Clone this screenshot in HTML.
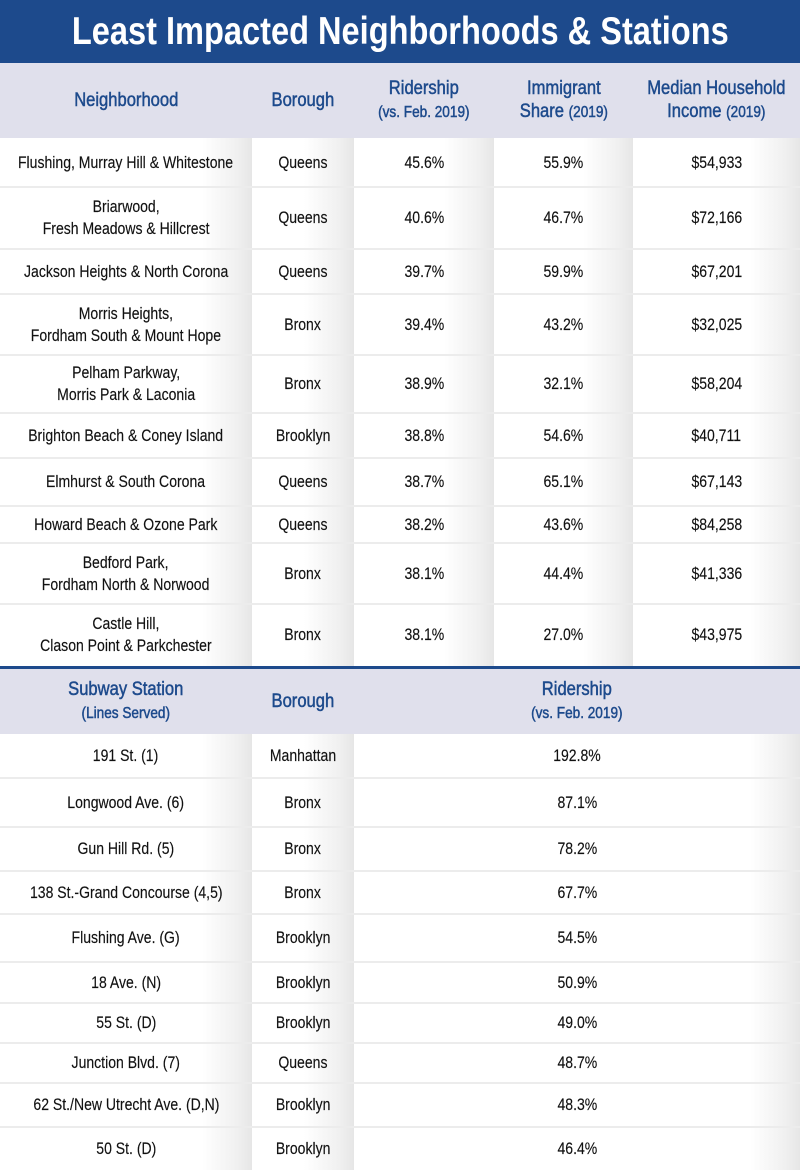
<!DOCTYPE html>
<html><head><meta charset="utf-8"><style>
*{margin:0;padding:0;box-sizing:border-box}
body{width:800px;height:1170px;overflow:hidden;background:#fff;font-family:"Liberation Sans",sans-serif;color:#111}
.title{position:absolute;left:0;top:0;width:800px;height:63px;background:#1d4a8c;color:#fff;font-weight:bold;font-size:39px;text-align:center;line-height:64px;white-space:nowrap}
.title span{display:inline-block;transform:scaleX(0.835)}
.row{position:absolute;left:0;width:800px;display:flex}
.row>div{height:100%;display:flex;align-items:center;justify-content:center;text-align:center;font-size:16.5px;line-height:22px;background:linear-gradient(to right,#fff calc(100% - 50px),#f0f0f0 calc(100% - 15px),#e6e6e6 100%)}
.row>div>span{display:inline-block;transform:scaleX(0.85);white-space:nowrap;-webkit-text-stroke:0.15px #111}
.hdr>div{background:#e0e0ec;color:#1d4a8c;font-size:19.5px;line-height:23px}
.hdr>div>span{-webkit-text-stroke:0.5px #1d4a8c}
.hdr small{font-size:16px}
.sep{position:absolute;left:0;width:800px;height:2px;background:#ececec}
.c1{width:252px}.c2{width:102px}.c3{width:140px}.c4{width:139px}.c5{width:167px}.cw{width:446px}
</style></head><body>
<div class="title"><span>Least Impacted Neighborhoods &amp; Stations</span></div>
<div class="row hdr" style="top:63px;height:75px"><div class="c1"><span>Neighborhood</span></div><div class="c2"><span>Borough</span></div><div class="c3"><span>Ridership<br><small>(vs. Feb. 2019)</small></span></div><div class="c4"><span>Immigrant<br>Share <small>(2019)</small></span></div><div class="c5"><span>Median Household<br>Income <small>(2019)</small></span></div></div>
<div class="row" style="top:138px;height:49px"><div class="c1"><span>Flushing, Murray Hill &amp; Whitestone</span></div><div class="c2"><span>Queens</span></div><div class="c3"><span>45.6%</span></div><div class="c4"><span>55.9%</span></div><div class="c5"><span>$54,933</span></div></div>
<div class="row" style="top:187px;height:62px"><div class="c1"><span>Briarwood,<br>Fresh Meadows &amp; Hillcrest</span></div><div class="c2"><span>Queens</span></div><div class="c3"><span>40.6%</span></div><div class="c4"><span>46.7%</span></div><div class="c5"><span>$72,166</span></div></div>
<div class="row" style="top:249px;height:45px"><div class="c1"><span>Jackson Heights &amp; North Corona</span></div><div class="c2"><span>Queens</span></div><div class="c3"><span>39.7%</span></div><div class="c4"><span>59.9%</span></div><div class="c5"><span>$67,201</span></div></div>
<div class="row" style="top:294px;height:61px"><div class="c1"><span>Morris Heights,<br>Fordham South &amp; Mount Hope</span></div><div class="c2"><span>Bronx</span></div><div class="c3"><span>39.4%</span></div><div class="c4"><span>43.2%</span></div><div class="c5"><span>$32,025</span></div></div>
<div class="row" style="top:355px;height:58px"><div class="c1"><span>Pelham Parkway,<br>Morris Park &amp; Laconia</span></div><div class="c2"><span>Bronx</span></div><div class="c3"><span>38.9%</span></div><div class="c4"><span>32.1%</span></div><div class="c5"><span>$58,204</span></div></div>
<div class="row" style="top:413px;height:45px"><div class="c1"><span>Brighton Beach &amp; Coney Island</span></div><div class="c2"><span>Brooklyn</span></div><div class="c3"><span>38.8%</span></div><div class="c4"><span>54.6%</span></div><div class="c5"><span>$40,711</span></div></div>
<div class="row" style="top:458px;height:48px"><div class="c1"><span>Elmhurst &amp; South Corona</span></div><div class="c2"><span>Queens</span></div><div class="c3"><span>38.7%</span></div><div class="c4"><span>65.1%</span></div><div class="c5"><span>$67,143</span></div></div>
<div class="row" style="top:506px;height:37px"><div class="c1"><span>Howard Beach &amp; Ozone Park</span></div><div class="c2"><span>Queens</span></div><div class="c3"><span>38.2%</span></div><div class="c4"><span>43.6%</span></div><div class="c5"><span>$84,258</span></div></div>
<div class="row" style="top:543px;height:61px"><div class="c1"><span>Bedford Park,<br>Fordham North &amp; Norwood</span></div><div class="c2"><span>Bronx</span></div><div class="c3"><span>38.1%</span></div><div class="c4"><span>44.4%</span></div><div class="c5"><span>$41,336</span></div></div>
<div class="row" style="top:604px;height:62px"><div class="c1"><span>Castle Hill,<br>Clason Point &amp; Parkchester</span></div><div class="c2"><span>Bronx</span></div><div class="c3"><span>38.1%</span></div><div class="c4"><span>27.0%</span></div><div class="c5"><span>$43,975</span></div></div>
<div class="sep" style="top:186px"></div><div class="sep" style="top:248px"></div><div class="sep" style="top:293px"></div><div class="sep" style="top:354px"></div><div class="sep" style="top:412px"></div><div class="sep" style="top:457px"></div><div class="sep" style="top:505px"></div><div class="sep" style="top:542px"></div><div class="sep" style="top:603px"></div>
<div style="position:absolute;left:0;top:666px;width:800px;height:3px;background:#1d4a8c"></div>
<div class="row hdr" style="top:669px;height:65px"><div class="c1"><span>Subway Station<br><small>(Lines Served)</small></span></div><div class="c2"><span>Borough</span></div><div class="cw"><span>Ridership<br><small>(vs. Feb. 2019)</small></span></div></div>
<div class="row" style="top:734px;height:44px"><div class="c1"><span>191 St. (1)</span></div><div class="c2"><span>Manhattan</span></div><div class="cw"><span>192.8%</span></div></div>
<div class="row" style="top:778px;height:49px"><div class="c1"><span>Longwood Ave. (6)</span></div><div class="c2"><span>Bronx</span></div><div class="cw"><span>87.1%</span></div></div>
<div class="row" style="top:827px;height:44px"><div class="c1"><span>Gun Hill Rd. (5)</span></div><div class="c2"><span>Bronx</span></div><div class="cw"><span>78.2%</span></div></div>
<div class="row" style="top:871px;height:43px"><div class="c1"><span>138 St.-Grand Concourse (4,5)</span></div><div class="c2"><span>Bronx</span></div><div class="cw"><span>67.7%</span></div></div>
<div class="row" style="top:914px;height:48px"><div class="c1"><span>Flushing Ave. (G)</span></div><div class="c2"><span>Brooklyn</span></div><div class="cw"><span>54.5%</span></div></div>
<div class="row" style="top:962px;height:41px"><div class="c1"><span>18 Ave. (N)</span></div><div class="c2"><span>Brooklyn</span></div><div class="cw"><span>50.9%</span></div></div>
<div class="row" style="top:1003px;height:40px"><div class="c1"><span>55 St. (D)</span></div><div class="c2"><span>Brooklyn</span></div><div class="cw"><span>49.0%</span></div></div>
<div class="row" style="top:1043px;height:40px"><div class="c1"><span>Junction Blvd. (7)</span></div><div class="c2"><span>Queens</span></div><div class="cw"><span>48.7%</span></div></div>
<div class="row" style="top:1083px;height:44px"><div class="c1"><span>62 St./New Utrecht Ave. (D,N)</span></div><div class="c2"><span>Brooklyn</span></div><div class="cw"><span>48.3%</span></div></div>
<div class="row" style="top:1127px;height:43px"><div class="c1"><span>50 St. (D)</span></div><div class="c2"><span>Brooklyn</span></div><div class="cw"><span>46.4%</span></div></div>
<div class="sep" style="top:777px"></div><div class="sep" style="top:826px"></div><div class="sep" style="top:870px"></div><div class="sep" style="top:913px"></div><div class="sep" style="top:961px"></div><div class="sep" style="top:1002px"></div><div class="sep" style="top:1042px"></div><div class="sep" style="top:1082px"></div><div class="sep" style="top:1126px"></div>
</body></html>
